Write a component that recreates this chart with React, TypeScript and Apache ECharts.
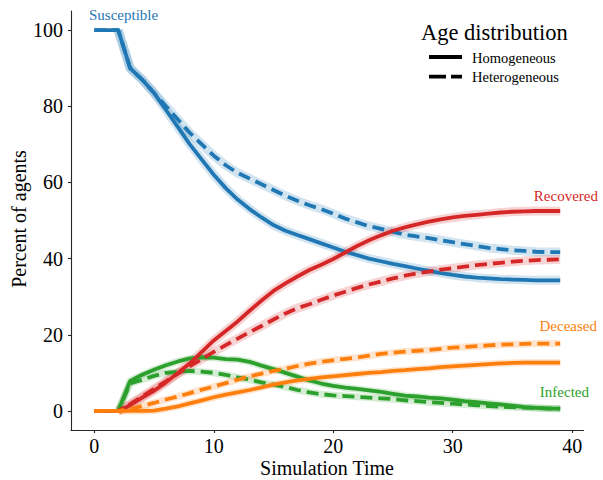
import React, { useEffect, useRef } from "react";
import * as echarts from "echarts";

const timeSteps = [0, 1, 2, 3, 4, 5, 6, 7, 8, 9, 10, 11, 12, 13, 14, 15, 16, 17, 18, 19, 20, 21, 22, 23, 24, 25, 26, 27, 28, 29, 30, 31, 32, 33, 34, 35, 36, 37, 38, 39];

const susceptibleHomo = [100, 100, 100, 90, 87, 83.5, 79, 74.5, 70, 66, 62, 58.5, 55.5, 53, 50.8, 48.8, 47.3, 46.2, 45.1, 44, 42.9, 41.8, 40.9, 40, 39.3, 38.6, 38, 37.4, 36.8, 36.2, 35.7, 35.3, 35, 34.8, 34.6, 34.5, 34.4, 34.3, 34.3, 34.3];
const susceptibleHetero = [100, 100, 100, 90, 87, 83.5, 80, 76.5, 73, 70, 67, 64.5, 62.5, 61, 59.5, 58, 56.5, 55.2, 54, 53, 51.8, 50.5, 49.5, 48.5, 47.8, 47, 46.3, 45.8, 45.4, 44.8, 44.3, 43.8, 43.3, 42.8, 42.5, 42.2, 42, 41.8, 41.7, 41.7];
const infectedHomo = [0, 0, 0, 7.9, 9.5, 10.8, 12, 13, 13.8, 14.1, 14, 13.6, 13.5, 12.9, 11.9, 11, 10, 9, 8, 7.2, 6.6, 6.1, 5.8, 5.4, 5, 4.5, 4, 3.8, 3.5, 3.3, 3, 2.6, 2.3, 2, 1.7, 1.4, 1, 0.8, 0.6, 0.6];
const infectedHetero = [0, 0, 0, 7.2, 8.2, 9.2, 10, 10.3, 10.5, 10.3, 10, 9.5, 8.8, 8.2, 7.5, 6.9, 6.3, 5.5, 4.9, 4.4, 4.1, 3.9, 3.7, 3.5, 3.3, 3.1, 2.8, 2.6, 2.3, 2.1, 1.9, 1.7, 1.5, 1.3, 1.1, 1, 0.9, 0.8, 0.7, 0.6];
const recoveredHomo = [0, 0, 0, 1.5, 3.5, 5.3, 7.5, 10, 12.5, 15.5, 18.5, 21, 23.5, 26.3, 29, 31.5, 33.5, 35.3, 37, 38.4, 39.9, 41.6, 43.3, 44.8, 46.1, 47.3, 48.2, 49, 49.7, 50.3, 50.8, 51.2, 51.5, 51.8, 52.1, 52.3, 52.4, 52.5, 52.5, 52.5];
const recoveredHetero = [0, 0, 0, 1.8, 3.8, 5.8, 7.8, 9.8, 11.8, 13.6, 15.5, 17.3, 19, 20.7, 22.3, 24, 25.6, 27, 28, 29.2, 30.3, 31.3, 32.3, 33.2, 34, 34.8, 35.5, 36.1, 36.6, 37.1, 37.5, 37.9, 38.3, 38.6, 38.9, 39.2, 39.4, 39.6, 39.7, 39.8];
const deceasedHomo = [0, 0, 0, 0, 0, 0.1, 0.6, 1.2, 2, 2.8, 3.6, 4.3, 4.9, 5.5, 6.2, 6.9, 7.5, 8, 8.4, 8.8, 9.1, 9.4, 9.7, 10, 10.2, 10.5, 10.7, 11, 11.2, 11.5, 11.7, 11.9, 12.1, 12.3, 12.5, 12.6, 12.7, 12.7, 12.7, 12.7];
const deceasedHetero = [0, 0, 0, 0.5, 1.3, 2.1, 3, 3.8, 4.7, 5.6, 6.4, 7.3, 8.2, 9.1, 9.8, 10.5, 11.1, 11.8, 12.4, 12.9, 13.3, 13.7, 14, 14.5, 15, 15.3, 15.6, 15.8, 16, 16.3, 16.6, 16.8, 17, 17.2, 17.4, 17.5, 17.6, 17.7, 17.7, 17.7];

const xTicks = [0, 10, 20, 30, 40];
const yTicks = [0, 20, 40, 60, 80, 100];

const xAxisTitle = "Simulation Time";
const yAxisTitle = "Percent of agents";
const stateNames = ["Susceptible", "Infected", "Recovered", "Deceased"];
const legendTitle = "Age distribution";
const legendItems = ["Homogeneous", "Heterogeneous"];

const BLUE = "#1f77b4";
const ORANGE = "#ff7f0e";
const GREEN = "#2ca02c";
const RED = "#d62728";
const FONT = "'Liberation Serif', 'Times New Roman', serif";

const seriesDefs = [
  { name: "Susceptible Homogeneous", values: susceptibleHomo, color: BLUE, dashed: false, halo: 9 },
  { name: "Susceptible Heterogeneous", values: susceptibleHetero, color: BLUE, dashed: true, halo: 9 },
  { name: "Infected Homogeneous", values: infectedHomo, color: GREEN, dashed: false, halo: 7 },
  { name: "Infected Heterogeneous", values: infectedHetero, color: GREEN, dashed: true, halo: 7 },
  { name: "Recovered Homogeneous", values: recoveredHomo, color: RED, dashed: false, halo: 9 },
  { name: "Recovered Heterogeneous", values: recoveredHetero, color: RED, dashed: true, halo: 9 },
  { name: "Deceased Homogeneous", values: deceasedHomo, color: ORANGE, dashed: false, halo: 7 },
  { name: "Deceased Heterogeneous", values: deceasedHetero, color: ORANGE, dashed: true, halo: 7 },
];

export default function App() {
  const ref = useRef<HTMLDivElement>(null);
  useEffect(() => {
    if (!ref.current) return;
    const chart = echarts.init(ref.current, null, { renderer: "svg" });
    const halos = seriesDefs.map((s) => ({
      name: s.name + " band",
      type: "line",
      data: timeSteps.slice(2).map((t) => [t, s.values[t]]),
      symbol: "none",
      silent: true,
      z: 1,
      lineStyle: { color: s.color, width: s.halo, opacity: 0.2, cap: "butt", join: "round" },
    }));
    const mains = seriesDefs.map((s) => ({
      name: s.name,
      type: "line",
      data: timeSteps.map((t, i) => [t, s.values[i]]),
      symbol: "none",
      z: 3,
      lineStyle: {
        color: s.color,
        width: 3.8,
        type: s.dashed ? [12, 6] : "solid",
        cap: "butt",
        join: "round",
      },
    }));
    const axisLineStyle = { color: "#262626", width: 1.1 };
    chart.setOption({
      animation: false,
      backgroundColor: "#ffffff",
      grid: { left: 71, right: 19.5, top: 11, bottom: 50, containLabel: false, outerBoundsMode: "none" },
      xAxis: {
        type: "value",
        min: -1.95,
        max: 40.95,
        splitLine: { show: false },
        axisLine: { show: true, onZero: false, lineStyle: axisLineStyle },
        axisTick: { show: true, length: 3, customValues: xTicks, lineStyle: axisLineStyle },
        axisLabel: { customValues: xTicks, fontFamily: FONT, fontSize: 20, color: "#000", margin: 6 },
      },
      yAxis: {
        type: "value",
        min: -5,
        max: 105,
        splitLine: { show: false },
        axisLine: { show: true, onZero: false, lineStyle: axisLineStyle },
        axisTick: { show: true, length: 3, customValues: yTicks, lineStyle: axisLineStyle },
        axisLabel: { customValues: yTicks, fontFamily: FONT, fontSize: 20, color: "#000", margin: 8 },
      },
      series: [...halos, ...mains],
      graphic: [
        { type: "text", x: 327, y: 468, style: { text: xAxisTitle, fill: "#000", font: `20px ${FONT}`, align: "center", verticalAlign: "middle" } },
        { type: "text", x: 19, y: 219, rotation: Math.PI / 2, style: { text: yAxisTitle, fill: "#000", font: `20px ${FONT}`, align: "center", verticalAlign: "middle" } },
        { type: "text", left: 89, top: 7, style: { text: stateNames[0], fill: BLUE, font: `15px ${FONT}` } },
        { type: "text", right: 5, top: 188, style: { text: stateNames[2], fill: RED, font: `15px ${FONT}` } },
        { type: "text", right: 6, top: 318, style: { text: stateNames[3], fill: ORANGE, font: `15px ${FONT}` } },
        { type: "text", right: 14, top: 384, style: { text: stateNames[1], fill: GREEN, font: `15px ${FONT}` } },
        { type: "text", left: 421, top: 21, style: { text: legendTitle, fill: "#000", font: `22.5px ${FONT}` } },
        { type: "line", shape: { x1: 429, y1: 57, x2: 462, y2: 57 }, style: { stroke: "#000", lineWidth: 3.8 } },
        { type: "line", shape: { x1: 429, y1: 76.7, x2: 462, y2: 76.7 }, style: { stroke: "#000", lineWidth: 3.8, lineDash: [17, 5] } },
        { type: "text", left: 472, top: 50, style: { text: legendItems[0], fill: "#000", font: `14.5px ${FONT}` } },
        { type: "text", left: 472, top: 69, style: { text: legendItems[1], fill: "#000", font: `14.5px ${FONT}` } },
      ],
    });
    return () => chart.dispose();
  }, []);
  return <div ref={ref} style={{ width: 603, height: 480, position: "absolute", left: 0, top: 0 }} />;
}
